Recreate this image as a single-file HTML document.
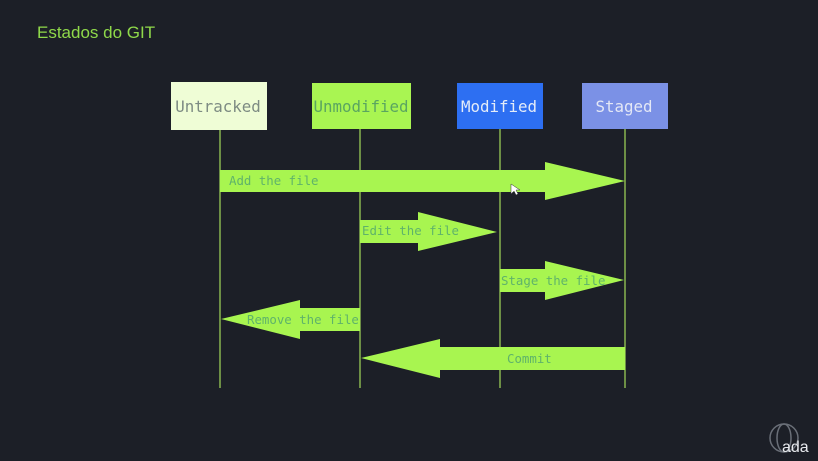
<!DOCTYPE html>
<html><head><meta charset="utf-8"><style>
html,body{margin:0;padding:0;background:#1c1f27;}
svg{display:block}
</style></head><body>
<svg width="818" height="461" viewBox="0 0 818 461" xmlns="http://www.w3.org/2000/svg">
<rect width="818" height="461" fill="#1c1f27"/>
<text x="37" y="38" font-family="Liberation Sans, DejaVu Sans, sans-serif" font-size="17" fill="#8fd94a">Estados do GIT</text>
<g stroke="#6d8f45" stroke-width="2">
<line x1="220" y1="130" x2="220" y2="388"/>
<line x1="360" y1="129" x2="360" y2="388"/>
<line x1="500" y1="129" x2="500" y2="388"/>
<line x1="625" y1="129" x2="625" y2="388"/>
</g>
<rect x="171" y="82" width="96" height="48" fill="#effdd6"/>
<rect x="312" y="83" width="99" height="46" fill="#a9f552"/>
<rect x="457" y="83" width="86" height="46" fill="#2d6ff2"/>
<rect x="582" y="83" width="86" height="46" fill="#7b91e6"/>
<g font-family="DejaVu Sans Mono, Liberation Mono, monospace" font-size="15.8" text-anchor="middle">
<text x="218" y="112" fill="#7d8b83">Untracked</text>
<text x="361" y="112" fill="#5aa560">Unmodified</text>
<text x="499" y="112" fill="#e4ecf8">Modified</text>
<text x="624" y="112" fill="#e4e8f6">Staged</text>
</g>
<g fill="#a8f550">
<polygon points="220,170 545,170 545,162 625,181 545,200 545,192 220,192"/>
<polygon points="360,220 418,220 418,212 497,232 418,251 418,243 360,243"/>
<polygon points="500,269 545,269 545,261 624,280 545,300 545,292 500,292"/>
<polygon points="360,308 300,308 300,300 221,319 300,339 300,331 360,331"/>
<polygon points="625,347 440,347 440,339 361,358 440,378 440,370 625,370"/>
</g>
<g font-family="DejaVu Sans Mono, Liberation Mono, monospace" font-size="12.4" fill="#5fb36a">
<text x="229" y="185">Add the file</text>
<text x="362" y="235">Edit the file</text>
<text x="501" y="285">Stage the file</text>
<text x="247" y="324">Remove the file</text>
<text x="507" y="363">Commit</text>
</g>
<path d="M511,184 l0,10 l3,-3 l2,4 l2,-1 l-2,-4 l4,0 z" fill="#ffffff" stroke="#333" stroke-width="0.5"/>
<g fill="none" stroke="#6a6f78" stroke-width="1.5">
<circle cx="784" cy="438" r="14"/>
<ellipse cx="784" cy="438" rx="7" ry="14"/>
</g>
<text x="782" y="452" font-family="Liberation Sans, DejaVu Sans, sans-serif" font-size="16" fill="#e8eaee">ada</text>
</svg>
</body></html>
